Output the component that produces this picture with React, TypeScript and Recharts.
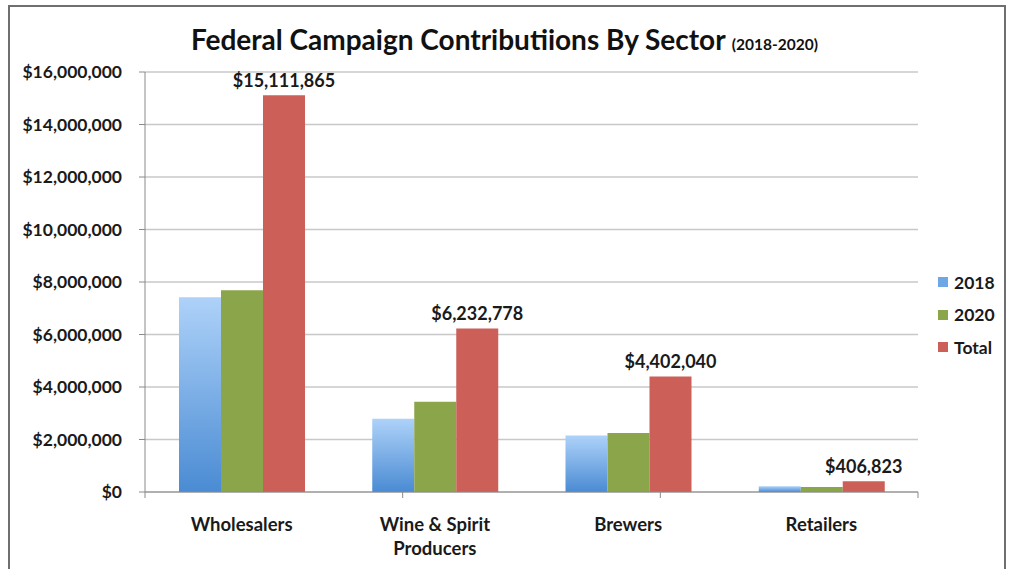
import React from "react";
import {
  Bar,
  BarChart,
  CartesianGrid,
  LabelList,
  Text,
  XAxis,
  YAxis,
} from "recharts";

const categories = ["Wholesalers", "Wine & Spirit Producers", "Brewers", "Retailers"];
const values2018 = [7420000, 2790000, 2150000, 220000];
const values2020 = [7690000, 3440000, 2250000, 187000];
const totals = [15111865, 6232778, 4402040, 406823];
const yTicks = [0, 2000000, 4000000, 6000000, 8000000, 10000000, 12000000, 14000000, 16000000];
const boundaryTicks = [0, 1, 2, 3, 4];

const series = [
  { key: "y2018", label: "2018", fill: "url(#blueFade)", swatch: "#6fa6e6" },
  { key: "y2020", label: "2020", fill: "#8ba54b", swatch: "#8ba54b" },
  { key: "total", label: "Total", fill: "#cc5f58", swatch: "#cc5f58" },
];

const rows = categories.map((name, i) => ({
  name,
  y2018: values2018[i],
  y2020: values2020[i],
  total: totals[i],
}));

const FONT = "Lato, 'Open Sans', sans-serif";
const money = (v: number) => "$" + Number(v).toLocaleString("en-US");

function CategoryTick({ x, y, payload }: any) {
  return (
    <Text
      x={x}
      y={y + 16}
      width={150}
      textAnchor="middle"
      verticalAnchor="start"
      lineHeight={24}
      fill="#1a1a1a"
      fontSize={18.5}
      fontWeight={700}
      fontFamily={FONT}
    >
      {payload.value}
    </Text>
  );
}

const NoLabel = () => <g />;

export default function App() {
  return (
    <div style={{ position: "absolute", left: 0, top: 0, width: 1009, height: 569, overflow: "hidden", background: "#fff" }}>
      <div
        style={{
          position: "absolute",
          left: 8,
          top: 5,
          width: 998,
          height: 580,
          border: "2px solid #6f6f6f",
          boxSizing: "border-box",
        }}
      />
      <div
        style={{
          position: "absolute",
          left: 0,
          top: 22,
          width: 1009,
          textAlign: "center",
          fontFamily: FONT,
          fontWeight: 700,
          color: "#111",
          fontSize: 28,
        }}
      >
        Federal Campaign Contributiions By Sector <span style={{ fontSize: 15.5 }}>(2018-2020)</span>
      </div>
      <div style={{ position: "absolute", left: 0, top: 0 }}>
        <BarChart
          width={1009}
          height={569}
          data={rows}
          margin={{ top: 72, right: 91, bottom: 0, left: 0 }}
          barCategoryGap="34%"
          barGap={0}
          barSize={42}
        >
          <defs>
            <linearGradient id="blueFade" x1="0" y1="0" x2="0" y2="1">
              <stop offset="0%" stopColor="#aed2f9" />
              <stop offset="100%" stopColor="#4a8bd3" />
            </linearGradient>
          </defs>
          <CartesianGrid vertical={false} stroke="#c8c8c8" strokeWidth={1.5} />
          <XAxis
            xAxisId="bounds"
            type="number"
            domain={[0, 4]}
            ticks={boundaryTicks}
            interval={0}
            height={2}
            tick={<NoLabel />}
            tickLine={{ stroke: "#8a8a8a" }}
            tickSize={6}
            stroke="#8a8a8a"
          />
          <XAxis
            xAxisId="cat"
            dataKey="name"
            height={75}
            axisLine={false}
            tickLine={false}
            interval={0}
            tick={<CategoryTick />}
          />
          <YAxis
            width={145}
            domain={[0, 16000000]}
            ticks={yTicks}
            interval={0}
            stroke="#8a8a8a"
            tickSize={6}
            tickMargin={17}
            tickFormatter={money}
            tick={{ fill: "#1a1a1a", fontSize: 17.5, fontWeight: 700, fontFamily: FONT }}
          />
          {series.map((s) => (
            <Bar key={s.key} dataKey={s.key} xAxisId="cat" fill={s.fill} isAnimationActive={false}>
              {s.key === "total" ? (
                <LabelList
                  dataKey="total"
                  position="top"
                  offset={8}
                  formatter={(v: any) => money(v)}
                  fill="#1a1a1a"
                  fontSize={18}
                  fontWeight={700}
                  fontFamily={FONT}
                />
              ) : null}
            </Bar>
          ))}
        </BarChart>
      </div>
      <div style={{ position: "absolute", left: 938, top: 266, fontFamily: FONT, fontWeight: 700, fontSize: 17.5, color: "#1a1a1a" }}>
        {series.map((s) => (
          <div key={s.key} style={{ display: "flex", alignItems: "center", height: 32.5 }}>
            <span style={{ width: 10, height: 10, background: s.swatch, marginRight: 6, display: "inline-block" }} />
            {s.label}
          </div>
        ))}
      </div>
    </div>
  );
}
